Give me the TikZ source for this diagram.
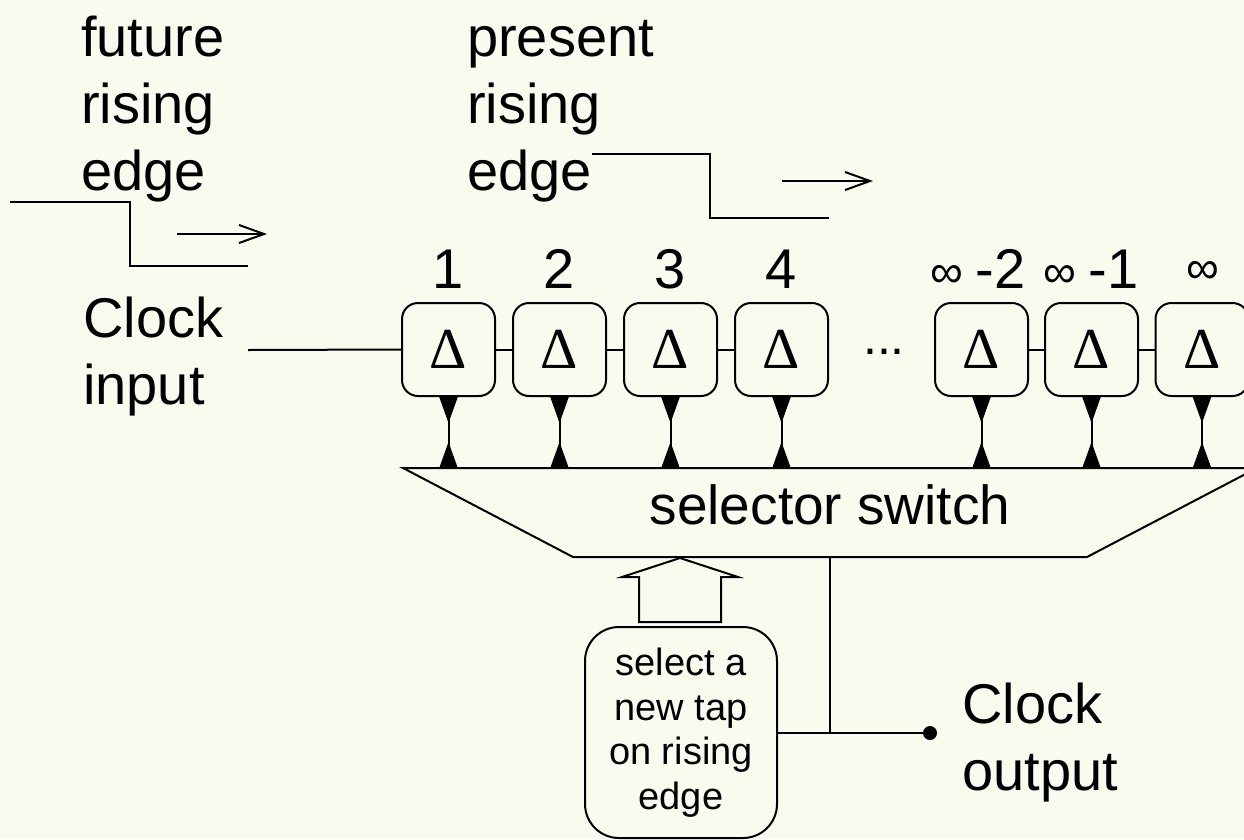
\documentclass[tikz,border=0pt]{standalone}
\usepackage{fontspec}
\setmainfont{Liberation Sans}
\newfontfamily\greekserif{Liberation Serif}
\usetikzlibrary{arrows.meta}
\definecolor{paper}{RGB}{249,251,238}

\tikzset{
  wire/.style={line width=2pt, line cap=butt},
  biglabel/.style={inner sep=0pt, anchor=base west,
    font=\fontsize{56}{67}\selectfont},
  tapnum/.style={inner sep=0pt, anchor=base,
    font=\fontsize{56}{67}\selectfont},
  delaybox/.style={draw, line width=2pt, rounded corners=16pt,
    minimum width=93pt, minimum height=93pt, inner sep=0pt,
    font=\greekserif\fontsize{58}{58}\selectfont},
  tap/.style={line width=2pt,
    {Triangle[reversed,length=26pt,width=18pt]}-{Triangle[reversed,length=26pt,width=18pt]}},
  travel/.style={line width=2pt, -{Straight Barb[length=25pt,width=18pt]}},
  ctrlbox/.style={draw, line width=2pt, rounded corners=34pt,
    minimum width=192pt, minimum height=211pt, inner sep=0pt,
    align=center, font=\fontsize{38}{44.5}\selectfont},
}
\newcommand{\smallinf}{{\fontsize{46}{46}\selectfont\raisebox{1pt}{∞} }}

\begin{document}
\begin{tikzpicture}[x=1pt,y=-1pt]
  \useasboundingbox (0,0) rectangle (1244,839);
  \fill[paper] (0,0) rectangle (1244,839);
  \clip (0,0) rectangle (1244,839);

  % edge labels and the two travelling waveforms
  \node[biglabel] (future) at (81,56)
    {\begin{tabular}[t]{@{}l@{}}future\\rising\\edge\end{tabular}};
  \node[biglabel] (present) at (467,56)
    {\begin{tabular}[t]{@{}l@{}}present\\rising\\edge\end{tabular}};

  \draw[wire] (10,202) -- (130,202) -- (130,266) -- (248,266);
  \draw[travel] (177,234) -- (267,234);
  \draw[wire] (592,154) -- (710,154) -- (710,218) -- (829,218);
  \draw[travel] (782,181) -- (873,181);

  % delay line
  \node[biglabel] (cin) at (83,337)
    {\begin{tabular}[t]{@{}l@{}}Clock\\input\end{tabular}};
  \coordinate (inend) at (248,350);

  \node[delaybox] (d1) at (448.5,349.5) {Δ};
  \node[delaybox] (d2) at (559.5,349.5) {Δ};
  \node[delaybox] (d3) at (670.5,349.5) {Δ};
  \node[delaybox] (d4) at (781.5,349.5) {Δ};
  \node[delaybox] (d5) at (981.5,349.5) {Δ};
  \node[delaybox] (d6) at (1091.5,349.5) {Δ};
  \node[delaybox] (d7) at (1202,349.5) {Δ};
  \node[inner sep=0pt, anchor=base, font=\fontsize{50}{50}\selectfont]
    (dots) at (884,354) {...};

  \draw[wire] (inend) -- (d1.west);
  \draw[wire] (d1.east) -- (d2.west);
  \draw[wire] (d2.east) -- (d3.west);
  \draw[wire] (d3.east) -- (d4.west);
  \draw[wire] (d5.east) -- (d6.west);
  \draw[wire] (d6.east) -- (d7.west);

  \node[tapnum] (n1) at (d1.center |- 0,288) {1};
  \node[tapnum] (n2) at (d2.center |- 0,288) {2};
  \node[tapnum] (n3) at (d3.center |- 0,288) {3};
  \node[tapnum] (n4) at (d4.center |- 0,288) {4};
  \node[tapnum] (n5) at (978,288) {\smallinf-2};
  \node[tapnum] (n6) at (1091,288) {\smallinf-1};
  \node[inner sep=0pt, anchor=base, font=\fontsize{46}{46}\selectfont]
    (n7) at (1203,283) {∞};

  % selector switch
  \coordinate (swTL) at (403,468);
  \coordinate (swBL) at (573,557);
  \coordinate (swBR) at (1087,557);
  \coordinate (swTR) at (1257,468);
  \draw[wire, line join=miter] (swTR) -- (swTL) -- (swBL) -- (swBR) -- (swTR);
  \node[inner sep=0pt, anchor=base, font=\fontsize{55}{66}\selectfont]
    (swlabel) at (830,524) {selector switch};

  \foreach \d in {d1,d2,d3,d4,d5,d6,d7}
    \draw[tap] (\d.south) -- (\d.south |- swTL);

  % tap selection control
  \node[ctrlbox] (ctrl) at (681,732.5)
    {select a\\new tap\\on rising\\edge};
  \draw[wire, line join=miter]
    (639,622) -- (639,577) -- (622,577) -- (680,558) -- (738,577)
    -- (721,577) -- (721,622) -- cycle;

  % clock output
  \coordinate (outtop) at (830,557);
  \node[circle, fill, inner sep=0pt, minimum size=14pt] (outdot) at (930,733) {};
  \coordinate (junc) at (830,733);
  \draw[wire] (outtop) -- (junc);
  \draw[wire] (ctrl.east |- junc) -- (outdot.center);
  \node[biglabel] (cout) at (962,723)
    {\begin{tabular}[t]{@{}l@{}}Clock\\output\end{tabular}};
\end{tikzpicture}
\end{document}
